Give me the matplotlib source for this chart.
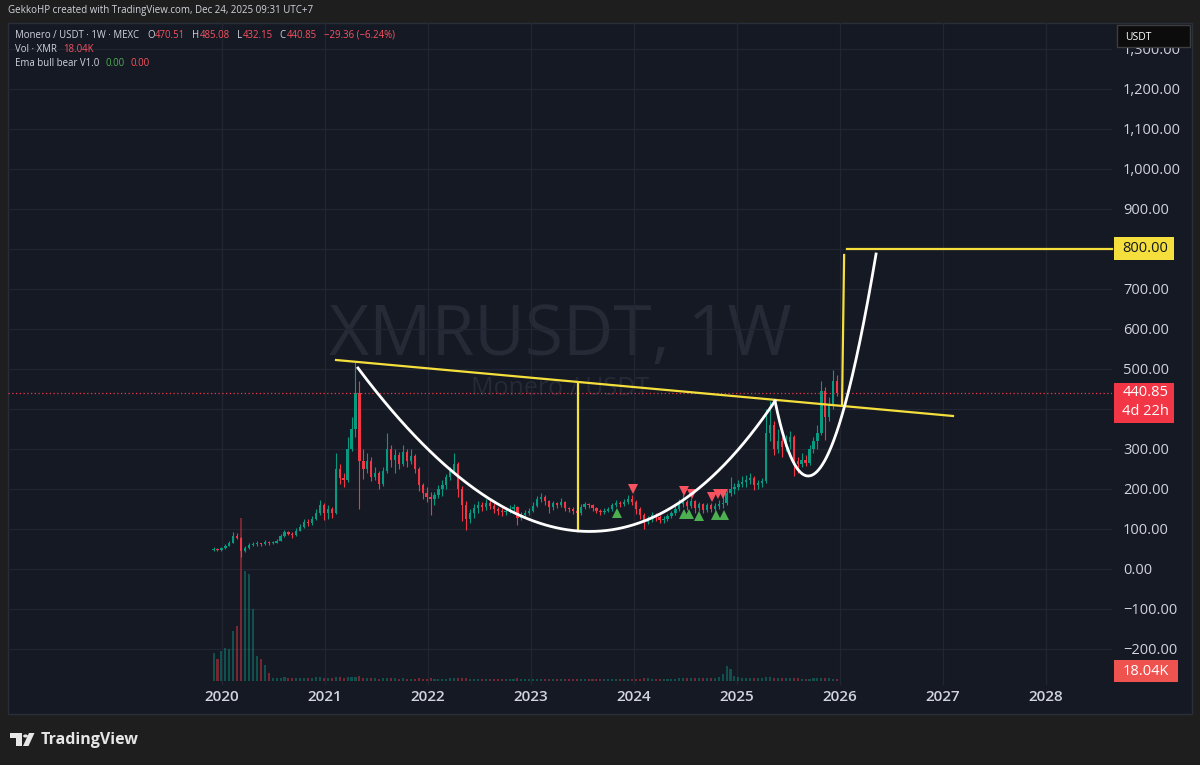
import numpy as np
import pandas as pd
import matplotlib
matplotlib.use("Agg")
import matplotlib.pyplot as plt
from matplotlib.patches import Rectangle, Circle, Polygon
from matplotlib.transforms import blended_transform_factory

plt.rcParams['font.family'] = ['Open Sans', 'DejaVu Sans']

# --- данные: двухнедельные свечи XMR/USDT ---
start_date = '2019-12-02'
first_open = 48.0
closes = [50, 47, 52, 58, 66, 82, 78, 45, 52, 60,
          62, 64, 62, 68, 65, 66, 70, 82, 92, 88,
          84, 96, 106, 118, 114, 126, 140, 160, 140, 150,
          140, 250, 228, 222, 300, 350, 440, 270, 250, 270,
          230, 240, 212, 245, 300, 272, 285, 262, 292, 270,
          282, 250, 210, 190, 180, 176, 185, 200, 210, 230,
          245, 262, 200, 160, 125, 140, 152, 160, 155, 165,
          158, 150, 145, 142, 144, 150, 155, 128, 135, 140,
          145, 158, 175, 180, 170, 155, 165, 160, 168, 152,
          150, 146, 140, 155, 162, 160, 152, 146, 142, 146,
          150, 160, 164, 162, 168, 176, 168, 150, 135, 118,
          125, 135, 130, 122, 126, 132, 140, 150, 162, 168,
          158, 170, 152, 162, 148, 160, 150, 158, 162, 165,
          190, 200, 205, 212, 218, 222, 228, 210, 215, 220,
          340, 360, 300, 320, 305, 318, 330, 270, 262, 272,
          265, 300, 320, 340, 445, 380, 410, 470.51, 440.85]
highs = [54, 52, 55, 62, 70, 92, 90, 80, 58, 65,
         68, 70, 66, 72, 70, 69, 74, 88, 98, 96,
         92, 102, 112, 126, 124, 132, 150, 172, 165, 160,
         155, 290, 262, 240, 330, 380, 517, 470, 300, 290,
         280, 255, 245, 255, 340, 310, 300, 292, 310, 300,
         300, 288, 256, 215, 205, 192, 192, 210, 222, 238,
         255, 290, 268, 208, 170, 150, 162, 170, 168, 175,
         172, 165, 155, 152, 150, 160, 162, 158, 142, 148,
         152, 168, 182, 190, 185, 172, 170, 168, 178, 170,
         156, 154, 150, 162, 168, 166, 162, 156, 150, 152,
         156, 166, 172, 170, 176, 185, 184, 172, 155, 140,
         132, 142, 140, 135, 132, 138, 146, 158, 175, 188,
         172, 178, 172, 168, 165, 166, 164, 165, 172, 185,
         198, 230, 215, 222, 232, 235, 240, 232, 222, 228,
         400, 420, 370, 350, 330, 335, 345, 335, 280, 290,
         285, 310, 330, 360, 470, 455, 430, 497, 485.08]
lows = [45, 44, 46, 51, 57, 65, 74, 30, 43, 50,
        57, 58, 57, 60, 61, 62, 64, 69, 80, 84,
        78, 82, 94, 103, 108, 110, 122, 135, 122, 125,
        128, 138, 212, 205, 218, 295, 330, 150, 225, 240,
        220, 222, 200, 208, 240, 255, 240, 250, 258, 255,
        262, 240, 195, 175, 168, 135, 160, 178, 182, 200,
        222, 238, 180, 120, 97, 115, 128, 140, 145, 148,
        150, 140, 135, 132, 136, 140, 143, 110, 122, 130,
        135, 142, 154, 168, 160, 140, 148, 152, 155, 145,
        142, 138, 132, 136, 150, 152, 146, 140, 136, 138,
        142, 145, 155, 155, 158, 162, 160, 138, 125, 100,
        112, 118, 120, 115, 116, 120, 128, 136, 146, 155,
        148, 152, 140, 146, 140, 142, 142, 146, 150, 152,
        160, 182, 188, 198, 205, 205, 212, 198, 200, 205,
        215, 320, 285, 290, 280, 295, 300, 232, 240, 255,
        258, 260, 290, 300, 335, 322, 370, 400, 432.15]
volumes = [330, 260, 350, 385, 370, 580, 640, 1900, 1280, 1250, 840, 290, 255, 185, 95,
           40, 36, 38, 42, 35, 33, 30, 34, 38, 36, 40, 45, 42, 38, 36,
           40, 48, 42, 38, 44, 46, 52, 55, 40, 36, 32, 30, 28, 30, 35,
           32, 30, 28, 30, 27, 26, 28, 30, 28, 26, 30, 27, 25, 26, 28,
           30, 32, 30, 34, 36, 28, 26, 25, 24, 25, 26, 24, 23, 24, 22,
           23, 24, 30, 26, 24, 22, 24, 26, 25, 23, 24, 22, 21, 22, 23,
           22, 21, 20, 22, 21, 20, 22, 21, 20, 21, 22, 23, 24, 22, 23,
           24, 25, 26, 28, 34, 30, 28, 26, 25, 24, 25, 26, 28, 30, 32,
           30, 32, 34, 30, 32, 34, 36, 40, 45, 78, 175, 136, 60, 42, 38,
           36, 34, 32, 35, 34, 50, 48, 40, 36, 34, 32, 30, 34, 30, 28,
           27, 28, 30, 32, 36, 34, 30, 28, 18.04]

years = list(range(2020, 2029))
price_ticks = list(range(-200, 1400, 100))

# сигналы индикатора "Ema bull bear"
bear_x = [2023.990, 2024.485, 2024.563, 2024.757, 2024.816, 2024.864]
bear_y = [200, 195, 187.5, 180, 187.5, 187.5]
bull_x = [2023.835, 2024.485, 2024.534, 2024.631, 2024.796, 2024.874]
bull_y = [140, 137.5, 137.5, 132.5, 135, 135]

# рисунки: линия шеи, чашка, ручка, цель
neck_x, neck_y = [2021.107, 2027.097], [522.5, 382.5]
cup_pts = [(2021.320, 502.5), (2023.568, -271.25), (2025.369, 420.0)]
handle_pts = [(2025.369, 420.0), (2025.777, -90.0), (2026.350, 787.5)]
depth_x, depth_y = [2023.456, 2023.456], [95, 465]
leg_x, leg_y = [2026.020, 2026.040], [412, 785]
target_price = 800.0
target_start = 2026.068

# шапка
hdr_open, hdr_high, hdr_low, hdr_close = 470.51, 485.08, 432.15, 440.85
hdr_change, hdr_pct = -29.36, -6.24
last_vol = '18.04K'
countdown = '4d 22h'

# --- стили ---
BG_OUT = '#1e1e1e'
BG_PANE = '#151924'
GRID = '#222632'
TXT = '#d1d4dc'
UP = '#089981'
DOWN = '#f23645'
YEL = '#f5df3c'
RED_T = '#f7525f'

W, H = 1200, 765


def fx(px):
    return px / W


def fy(py):
    return 1 - py / H


def bezier(pts, n=300):
    t = np.linspace(0, 1, n)[:, None]
    p0, p1, p2 = (np.array(p) for p in pts)
    b = (1 - t) ** 2 * p0 + 2 * t * (1 - t) * p1 + t ** 2 * p2
    return b[:, 0], b[:, 1]


def text_row(fig, x, y, parts, size=6.9):
    # кусочки текста подряд, каждый со своим цветом
    rend = fig.canvas.get_renderer()
    for gap, s, col in parts:
        x += gap
        t = fig.text(fx(x), fy(y), s, fontsize=size, color=col, va='center')
        x += t.get_window_extent(rend).width


opens = [first_open] + closes[:-1]
o, c = np.array(opens, float), np.array(closes, float)
hi, lo = np.array(highs, float), np.array(lows, float)
dates = pd.date_range(start_date, periods=len(closes), freq='14D')
xs = dates.year + (dates.dayofyear - 1) / np.where(dates.is_leap_year, 366, 365)
cols = np.where(c >= o, UP, DOWN)

fig = plt.figure(figsize=(12, 7.65), dpi=100)
fig.patch.set_facecolor(BG_OUT)
fig.add_artist(Rectangle((fx(8), fy(714)), fx(1184), fy(23) - fy(714),
                         transform=fig.transFigure, facecolor=BG_PANE,
                         edgecolor='#2a2e39', lw=1, zorder=-1))

ax = fig.add_axes([fx(8), fy(685), fx(1104), fy(23) - fy(685)])
ax.patch.set_visible(False)

# объём (отдельная ось поверх)
ax2 = ax.twinx()
ax2.set_ylim(-46.6, 7669)
ax2.set_yticks([])
for s in ax2.spines.values():
    s.set_visible(False)
ax2.bar(xs, volumes, width=0.02, color=cols, alpha=0.45, lw=0)

ax.set_xlim(2020 - 214 / 103, 2020 + 890 / 103)
ax.set_ylim(-290, 1365)
for s in ax.spines.values():
    s.set_visible(False)

ax.set_xticks(years)
ax.set_xticklabels([str(y) for y in years])
ax.set_yticks(price_ticks)
ax.set_yticklabels([f'{p:,.2f}'.replace('-', '\u2212') for p in price_ticks])
ax.yaxis.tick_right()
ax.yaxis.set_label_position('right')
ax.tick_params(axis='y', which='both', left=False, labelleft=False,
               right=True, labelright=True, length=0, pad=8.0,
               labelsize=10.5, labelcolor=TXT)
ax.tick_params(axis='x', length=0, pad=3.5, labelsize=11, labelcolor=TXT)
for lbl in ax.get_xticklabels():
    lbl.set_fontweight('semibold')
ax.grid(color=GRID, lw=0.9)
ax.set_axisbelow(True)

# водяной знак
ax.text(0.5, 0.4985, 'XMRUSDT, 1W', transform=ax.transAxes, ha='center',
        va='baseline', fontsize=50, color='#252a36', zorder=0)
ax.text(0.5, 0.438, 'Monero / USDT', transform=ax.transAxes, ha='center',
        va='baseline', fontsize=18, color='#252a36', zorder=0)

# свечи
ax.vlines(xs, lo, hi, colors=cols, lw=0.8, zorder=2)
ax.bar(xs, np.maximum(np.abs(c - o), 2), bottom=np.minimum(o, c), width=0.022,
       color=cols, lw=0, zorder=2)

# линия текущей цены
ax.axhline(closes[-1], color=DOWN, lw=0.9, ls=(0, (1, 2)), zorder=3)

# сигналы
ax.plot(bear_x, bear_y, 'v', color=RED_T, ms=7, mew=0, zorder=4)
ax.plot(bull_x, bull_y, '^', color='#4caf50', ms=7, mew=0, zorder=4)

# рисунки
ax.plot(neck_x, neck_y, color=YEL, lw=1.6, zorder=5)
ax.plot(depth_x, depth_y, color=YEL, lw=1.6, zorder=5)
ax.plot(leg_x, leg_y, color=YEL, lw=1.6, zorder=5)
ax.plot([target_start, ax.get_xlim()[1]], [target_price, target_price],
        color=YEL, lw=1.6, zorder=5, clip_on=False)
for pts in (cup_pts, handle_pts):
    bx, by = bezier(pts)
    ax.plot(bx, by, color='white', lw=2, zorder=6)

# метки на шкале цен
tr = blended_transform_factory(ax.transAxes, ax.transData)
ax.add_patch(Rectangle((1.0018, closes[-1] - 75), 0.0543, 99, transform=tr,
                       facecolor=DOWN, lw=0, clip_on=False, zorder=7))
ax.text(1.0095, closes[-1], f'{closes[-1]:.2f}', transform=tr, va='center',
        fontsize=10.5, color='white', clip_on=False, zorder=8)
ax.text(1.0095, closes[-1] - 48, countdown, transform=tr, va='center',
        fontsize=10.5, color='white', clip_on=False, zorder=8)
ax.add_patch(Rectangle((1.0018, target_price - 27.5), 0.0543, 57.5, transform=tr,
                       facecolor=YEL, lw=0, clip_on=False, zorder=7))
ax.text(1.0095, target_price, f'{target_price:.2f}', transform=tr, va='center',
        fontsize=10.5, color='#131722', clip_on=False, zorder=8)
ax.add_patch(Rectangle((1.0018, 0.0045), 0.058, 0.0333, transform=ax.transAxes,
                       facecolor='#ef5350', lw=0, clip_on=False, zorder=7))
ax.text(1.0095, 0.0211, last_vol, transform=ax.transAxes, va='center',
        fontsize=10.5, color='white', clip_on=False, zorder=8)

# кнопка валюты
fig.add_artist(Rectangle((fx(1117), fy(47)), fx(73), fy(25) - fy(47),
                         transform=fig.transFigure, facecolor='#0c0c0c',
                         edgecolor='#3d3d3d', lw=1, zorder=5))
fig.text(fx(1125), fy(37), 'USDT', fontsize=7.5, color='white', va='center',
         zorder=6)

# шапка
fig.text(fx(8), fy(11), 'GekkoHP created with TradingView.com, Dec 24, 2025 09:31 UTC+7',
         fontsize=7, color=TXT, va='center')
text_row(fig, 15, 35, [
    (0, 'Monero / USDT \u00b7 1W \u00b7 MEXC', TXT),
    (8, 'O', TXT), (0.5, f'{hdr_open:.2f}', RED_T),
    (7, 'H', TXT), (0.5, f'{hdr_high:.2f}', RED_T),
    (7, 'L', TXT), (0.5, f'{hdr_low:.2f}', RED_T),
    (7, 'C', TXT), (0.5, f'{hdr_close:.2f}', RED_T),
    (7, f'{hdr_change:.2f} ({hdr_pct:.2f}%)'.replace('-', '\u2212'), RED_T)])
text_row(fig, 15, 49, [(0, 'Vol \u00b7 XMR', TXT), (6, last_vol, RED_T)])
text_row(fig, 15, 63, [(0, 'Ema bull bear V1.0', TXT), (6, '0.00', '#4caf50'),
                       (6, '0.00', RED_T)])

# логотип TradingView
LOGO = '#e6e6e6'
fig.add_artist(Rectangle((fx(10), fy(738)), fx(12), fy(733) - fy(738),
                         transform=fig.transFigure, color=LOGO, lw=0))
fig.add_artist(Rectangle((fx(16), fy(746)), fx(6), fy(733) - fy(746),
                         transform=fig.transFigure, color=LOGO, lw=0))
fig.add_artist(Circle((fx(25.5), fy(736)), fx(2.4), transform=fig.transFigure,
                      color=LOGO, lw=0))
fig.add_artist(Polygon([(fx(29), fy(733)), (fx(34.5), fy(733)), (fx(28.5), fy(746)),
                        (fx(23), fy(746))], closed=True, transform=fig.transFigure,
                       color=LOGO, lw=0))
fig.text(fx(41), fy(740), 'TradingView', fontsize=11.5, fontweight='bold',
         color=LOGO, va='center')

fig.savefig('out.png', dpi=100, facecolor=fig.get_facecolor())
